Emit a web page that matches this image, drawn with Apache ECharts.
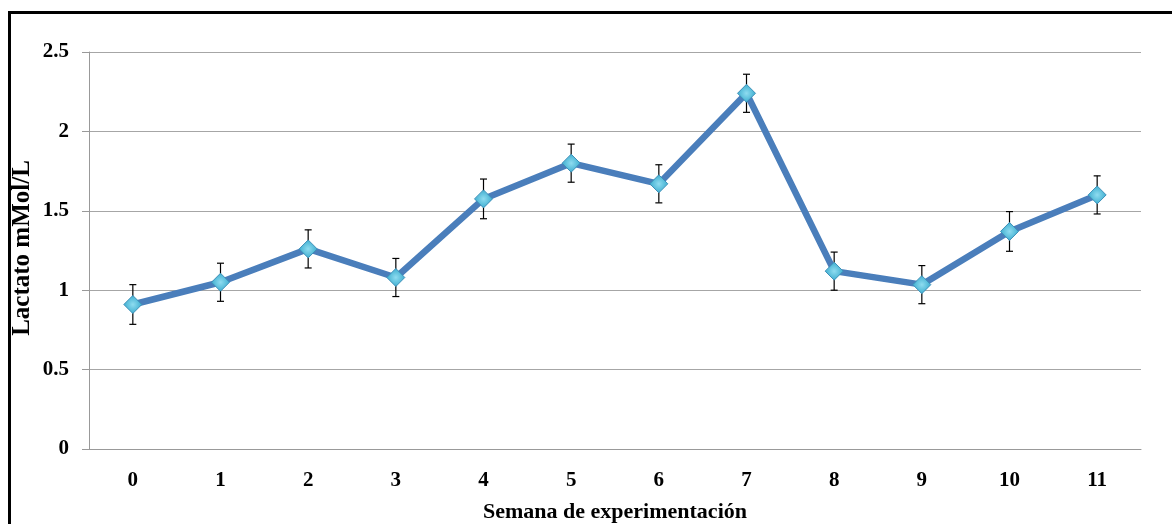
<!DOCTYPE html>
<html>
<head>
<meta charset="utf-8">
<script src="https://cdn.jsdelivr.net/npm/echarts@6/dist/echarts.min.js"></script>
<style>
  html, body { margin: 0; padding: 0; background: #fff; }
  #wrap { position: relative; width: 1172px; height: 524px; overflow: hidden; }
  #frame {
    position: absolute; left: 8px; top: 11px; width: 1200px; height: 600px;
    border-left: 3px solid #000; border-top: 3px solid #000;
  }
  #chart { position: absolute; left: 0; top: 0; width: 1172px; height: 524px; }
</style>
</head>
<body>
<div id="wrap">
  <div id="frame"></div>
  <div id="chart"></div>
</div>
<script>
// semanas y lactato medio (mMol/L) con su error
const weeks = ['0', '1', '2', '3', '4', '5', '6', '7', '8', '9', '10', '11']
const lactate = [0.91, 1.05, 1.26, 1.08, 1.575, 1.80, 1.67, 2.24, 1.12, 1.035, 1.37, 1.60]
const errors = [0.125, 0.12, 0.12, 0.12, 0.125, 0.12, 0.12, 0.12, 0.12, 0.12, 0.125, 0.12]
const yTicks = [0, 0.5, 1, 1.5, 2, 2.5]

const serif = '"Liberation Serif", "DejaVu Serif", serif'

const chart = echarts.init(document.getElementById('chart'))

const errData = lactate.map((v, i) => [i, v - errors[i], v + errors[i]])

chart.setOption({
  animation: false,
  grid: { left: 89, right: 31, top: 52, bottom: 75, outerBoundsMode: 'none', containLabel: false },
  // y axis title, placed by hand so it sits clear of the frame
  graphic: [{
    type: 'text',
    x: 23,
    y: 248,
    rotation: Math.PI / 2,
    style: {
      text: 'Lactato mMol/L',
      font: 'bold 25px ' + serif,
      fill: '#000',
      align: 'center',
      verticalAlign: 'middle'
    }
  }],
  xAxis: {
    type: 'category',
    data: weeks,
    boundaryGap: true,
    name: 'Semana de experimentación',
    nameLocation: 'middle',
    nameGap: 52,
    nameTextStyle: { fontFamily: serif, fontWeight: 'bold', fontSize: 22, color: '#000' },
    axisLine: { lineStyle: { color: '#999', width: 1 } },
    axisTick: { show: false },
    axisLabel: { fontFamily: serif, fontWeight: 'bold', fontSize: 21, color: '#000', margin: 21 }
  },
  yAxis: {
    type: 'value',
    min: yTicks[0],
    max: yTicks[yTicks.length - 1],
    interval: 0.5,
    axisLine: { show: true, lineStyle: { color: '#999', width: 1 } },
    axisTick: { show: true, length: 7, lineStyle: { color: '#999' } },
    axisLabel: { fontFamily: serif, fontWeight: 'bold', fontSize: 21, color: '#000', margin: 20 },
    splitLine: { lineStyle: { color: '#a6a6a6', width: 1 } }
  },
  series: [
    {
      type: 'custom',
      z: 1,
      data: errData,
      renderItem: function (params, api) {
        const x = api.value(0)
        const lo = api.coord([x, api.value(1)])
        const hi = api.coord([x, api.value(2)])
        const w = 3.5
        const style = { stroke: '#000', lineWidth: 1.2 }
        return {
          type: 'group',
          children: [
            { type: 'line', shape: { x1: hi[0], y1: hi[1], x2: lo[0], y2: lo[1] }, style: style },
            { type: 'line', shape: { x1: hi[0] - w, y1: hi[1], x2: hi[0] + w, y2: hi[1] }, style: style },
            { type: 'line', shape: { x1: lo[0] - w, y1: lo[1], x2: lo[0] + w, y2: lo[1] }, style: style }
          ]
        }
      }
    },
    {
      type: 'line',
      z: 3,
      data: lactate,
      symbol: 'diamond',
      symbolSize: 18,
      lineStyle: { color: '#4A7EBB', width: 6.5 },
      itemStyle: {
        color: {
          type: 'radial', x: 0.5, y: 0.5, r: 0.6,
          colorStops: [
            { offset: 0, color: '#8fdcf0' },
            { offset: 1, color: '#2aa3c8' }
          ]
        },
        borderColor: '#3d8fb8',
        borderWidth: 1
      }
    }
  ]
})
</script>
</body>
</html>
